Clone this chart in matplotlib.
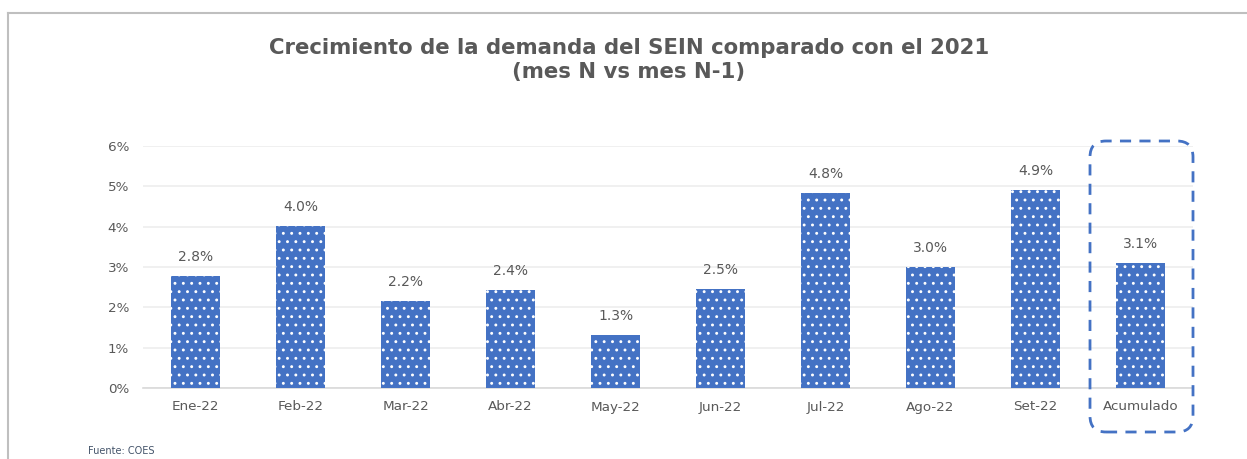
import matplotlib.pyplot as plt
from matplotlib.patches import FancyBboxPatch
from matplotlib.lines import Line2D
from matplotlib.ticker import FuncFormatter

months = ["Ene-22", "Feb-22", "Mar-22", "Abr-22", "May-22", "Jun-22",
          "Jul-22", "Ago-22", "Set-22", "Acumulado"]
growth = [2.8, 4.0, 2.2, 2.4, 1.3, 2.5, 4.8, 3.0, 4.9, 3.1]
shown = [2.78, 4.02, 2.16, 2.43, 1.32, 2.46, 4.84, 3.0, 4.91, 3.1]
yticks = [0, 1, 2, 3, 4, 5, 6]

blue = "#4472C4"
gray_txt = "#595959"

plt.rcParams["hatch.linewidth"] = 0.9

fig = plt.figure(figsize=(12.47, 4.59), dpi=100)
ax = fig.add_axes([143 / 1247, 1 - 388 / 459, (1193 - 143) / 1247, (388 - 146) / 459])

x = range(len(months))
bars = ax.bar(x, shown, width=0.47, color=blue, edgecolor="white",
              linewidth=0, hatch="..", zorder=3)

for xi, v, h in zip(x, growth, shown):
    ax.text(xi, h + 0.3, "{0:.1f}%".format(v), ha="center", va="bottom",
            fontsize=10, color=gray_txt)

ax.set_xlim(-0.5, len(months) - 0.5)
ax.set_ylim(0, 6)
ax.set_yticks(yticks)
ax.yaxis.set_major_formatter(FuncFormatter(lambda v, p: "{0:.0f}%".format(v)))
ax.set_xticks(list(x))
ax.set_xticklabels(months)
ax.tick_params(axis="both", length=0, labelsize=9.7, labelcolor=gray_txt)
ax.tick_params(axis="y", pad=10)
ax.tick_params(axis="x", pad=9)
ax.grid(axis="y", color="#EDEDED", linewidth=1.2, zorder=0)
for s in ["top", "right", "left"]:
    ax.spines[s].set_visible(False)
ax.spines["bottom"].set_color("#D9D9D9")
ax.spines["bottom"].set_linewidth(1.2)

fig.text(629 / 1247, 1 - 60 / 459,
         "Crecimiento de la demanda del SEIN comparado con el 2021\n(mes N vs mes N-1)",
         ha="center", va="center", fontsize=15.3, fontweight="bold",
         color=gray_txt, linespacing=1.25)

fig.text(88 / 1247, 1 - 451 / 459, "Fuente: COES", fontsize=7, color="#44546A",
         ha="left", va="center")

# outer frame (left and top only visible)
fig.add_artist(Line2D([8 / 1247, 8 / 1247], [0, 1 - 13 / 459],
                      transform=fig.transFigure, color="#BFBFBF", linewidth=1.5))
fig.add_artist(Line2D([8 / 1247, 1], [1 - 13 / 459, 1 - 13 / 459],
                      transform=fig.transFigure, color="#BFBFBF", linewidth=1.5))

# dashed highlight around "Acumulado" (inches, so corners stay round)
box = FancyBboxPatch((10.90, 0.27), 1.03, 2.91,
                     boxstyle="round,pad=0,rounding_size=0.16",
                     transform=fig.dpi_scale_trans, fill=False, edgecolor=blue,
                     linewidth=2, linestyle=(0, (4, 3)))
fig.add_artist(box)

fig.savefig("out.png", dpi=100)
